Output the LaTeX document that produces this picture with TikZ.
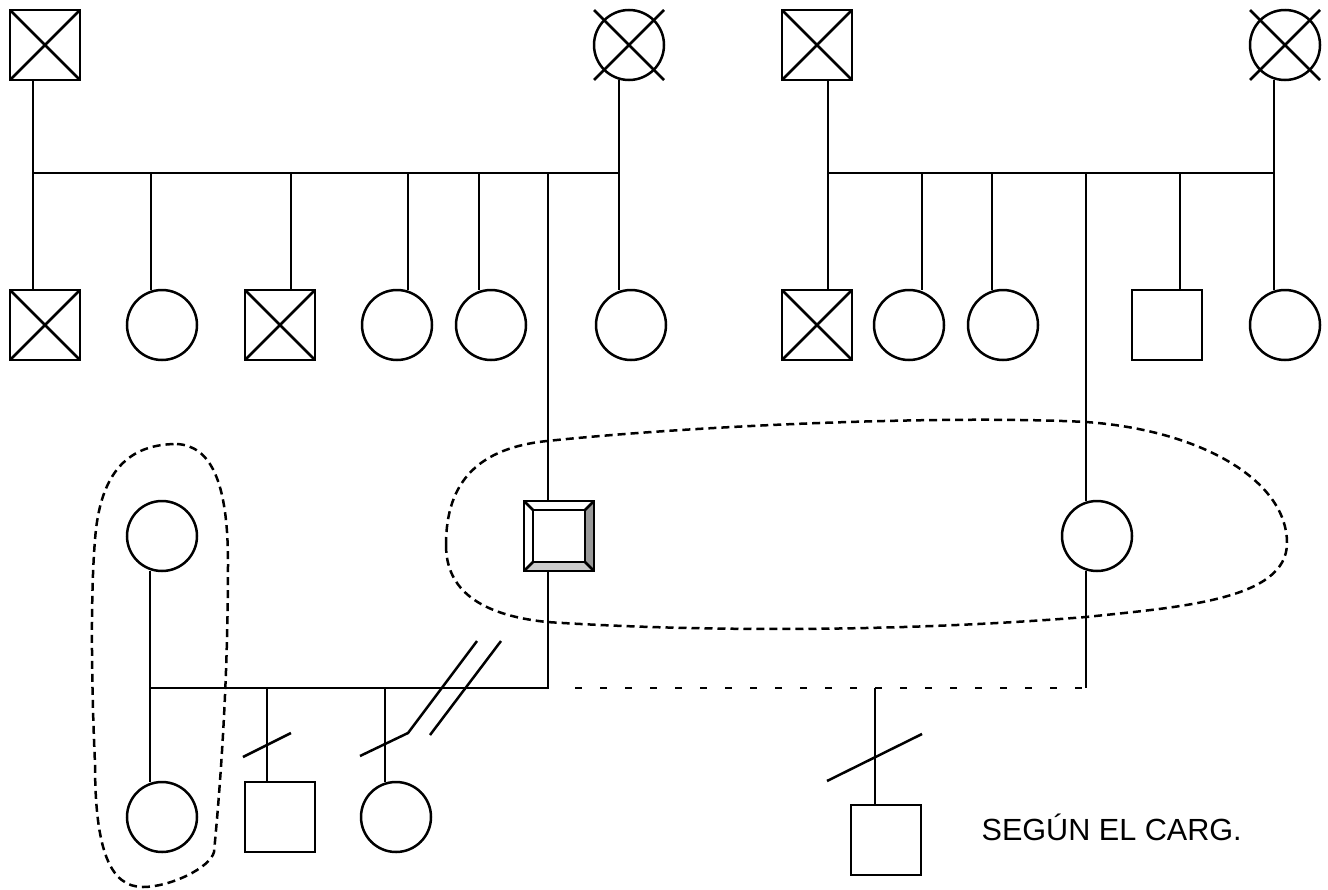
\documentclass[tikz,border=0pt]{standalone}
\usepackage{fontspec}
\setmainfont{Liberation Sans}
\usetikzlibrary{positioning}

\newcommand{\crossme}[1]{\draw ([shift={(-35,-35)}]#1.center) -- ([shift={(35,35)}]#1.center) ([shift={(35,-35)}]#1.center) -- ([shift={(-35,35)}]#1.center);}

\begin{document}
\begin{tikzpicture}[x=1pt, y=-1pt, line width=2.5pt,
    male/.style={draw, rectangle, minimum size=70pt, inner sep=0pt, outer sep=0pt},
    female/.style={draw, circle, minimum size=70pt, inner sep=0pt, outer sep=0pt},
    deadmale/.style={male, path picture={\draw (path picture bounding box.north west) -- (path picture bounding box.south east) (path picture bounding box.south west) -- (path picture bounding box.north east);}},
    group/.style={dash pattern=on 8pt off 5pt},
    bond/.style={dash pattern=on 7pt off 18pt}]
        \useasboundingbox (0,0) rectangle (1328,889);

        %grandparents
        \node[deadmale] (gm1) at (45,45) {};
        \node[female] (gf1) at (629,45) {};
        \node[deadmale] (gm2) at (817,45) {};
        \node[female] (gf2) at (1285,45) {};
        \crossme{gf1}
        \crossme{gf2}

        %left sibship
        \node[deadmale] (pL1) at (45,325) {};
        \node[female] (pL2) [right=47pt of pL1] {};
        \node[deadmale] (pL3) [right=48pt of pL2] {};
        \node[female] (pL4) [right=47pt of pL3] {};
        \node[female] (pL5) [right=24pt of pL4] {};
        \node[female] (pL6) [right=70pt of pL5] {};

        %right sibship
        \node[deadmale] (pR1) at (817,325) {};
        \node[female] (pR2) [right=22pt of pR1] {};
        \node[female] (pR3) [right=24pt of pR2] {};
        \node[male] (pR4) [right=94pt of pR3] {};
        \node[female] (pR5) [right=48pt of pR4] {};

        %couples
        \node[female] (exwife) at (162,536) {};
        \node[male] (index) at (559,536) {};
        \node[female] (wife) at (1097,536) {};

        %children
        \node[female] (c1) at (162,817) {};
        \node[male] (c2) [right=48pt of c1] {};
        \node[female] (c3) [right=46pt of c2] {};
        \node[male] (c4) at (886,840) {};

        \node[anchor=base west, font=\fontsize{30.6}{36}\selectfont] (note) at (977,840) {SEGÚN EL CARG.};

        %index bevel
        \fill[black!40] (index.north east) -- (index.south east) -- ([shift={(-9,-9)}]index.south east) -- ([shift={(-9,9)}]index.north east) -- cycle;
        \fill[black!20] (index.south west) -- (index.south east) -- ([shift={(-9,-9)}]index.south east) -- ([shift={(9,-9)}]index.south west) -- cycle;
        \draw ([shift={(9,9)}]index.north west) rectangle ([shift={(-9,-9)}]index.south east);
        \draw (index.north west) -- ++(9,9) (index.north east) -- ++(-9,9) (index.south west) -- ++(9,-9) (index.south east) -- ++(-9,-9);
        \draw (index.north west) rectangle (index.south east);

        %father's family
        \coordinate (sibLa) at (33,173);
        \coordinate (sibLb) at (619,173);
        \draw (gm1.south -| sibLa) -- (sibLa) -- (sibLb);
        \draw (gf1.south -| sibLb) -- (pL6.north -| sibLb);
        \draw (sibLa) -- (pL1.north -| sibLa);
        \foreach \x/\n in {151/pL2, 291/pL3, 408/pL4, 479/pL5, 548/index}
            \draw (\x,173) coordinate (t) -- (t |- \n.north);

        %mother's family
        \coordinate (sibRa) at (828,173);
        \coordinate (sibRb) at (1274,173);
        \draw (gm2.south -| sibRa) -- (sibRa) -- (sibRb);
        \draw (gf2.south -| sibRb) -- (pR5.north -| sibRb);
        \draw (sibRa) -- (pR1.north -| sibRa);
        \foreach \x/\n in {922/pR2, 992/pR3, 1180/pR4, 1086/wife}
            \draw (\x,173) coordinate (t) -- (t |- \n.north);

        %first union
        \coordinate (mateL) at (150,688);
        \coordinate (mateI) at (548,688);
        \draw (index.south -| mateI) -- (mateI) -- (mateL);
        \draw (exwife.south -| mateL) -- (c1.north -| mateL);
        \foreach \x/\n in {267/c2, 385/c3}
            \draw (\x,688) coordinate (t) -- (t |- \n.north);

        %second union
        \coordinate (bondL) at (575,688);
        \coordinate (bondR) at (1086,688);
        \coordinate (bondC) at (875,688);
        \draw (wife.south -| bondR) -- (bondR);
        \draw[bond] (bondL) -- (bondR);
        \draw (bondC) -- (bondC |- c4.north);

        %slashes
        \draw (243,757) -- (291,733);
        \draw (360,756) -- (408,733) -- (477,641);
        \draw (430,735) -- (501,641);
        \draw (827,781) -- (922,734);

        %groups
        \draw[group] (177,444) .. controls (210,446) and (228,480) .. (228,563)
            .. controls (228,700) and (218,810) .. (214,852)
            .. controls (210,868) and (170,887) .. (143,887)
            .. controls (110,887) and (95,850) .. (95,763)
            .. controls (92,700) and (90,600) .. (95,540)
            .. controls (100,470) and (130,444) .. (177,444) -- cycle;
        \draw[group] (446,545) .. controls (446,480) and (480,448) .. (547,441)
            .. controls (700,425) and (950,415) .. (1086,422)
            .. controls (1200,430) and (1287,480) .. (1287,543)
            .. controls (1287,600) and (1180,607) .. (1086,617)
            .. controls (900,632) and (700,632) .. (547,622)
            .. controls (480,615) and (446,590) .. (446,545) -- cycle;
\end{tikzpicture}
\end{document}
